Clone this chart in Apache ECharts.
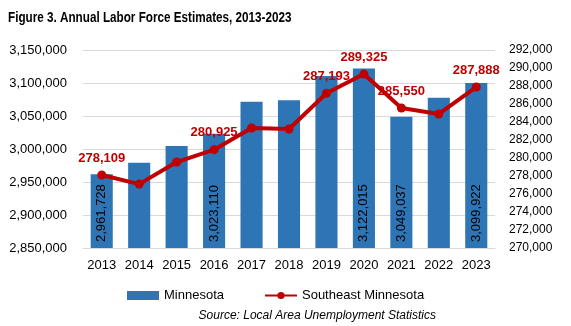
<!DOCTYPE html>
<html><head><meta charset="utf-8">
<script src="https://cdn.jsdelivr.net/npm/echarts@6/dist/echarts.min.js"></script>
<style>html,body{margin:0;padding:0;background:#fff}#c{width:571px;height:326px}</style>
</head><body><div id="c"></div>
<script>
const years = ['2013','2014','2015','2016','2017','2018','2019','2020','2021','2022','2023'];
const minnesota = [2961728, 2979000, 3004500, 3023110, 3071700, 3074000, 3110600, 3122015, 3049037, 3077700, 3099922];
const southeast = [278109, 277100, 279550, 280925, 283330, 283220, 287193, 289325, 285550, 284890, 287888];
const mnLabelYears = ['2013','2016','2020','2021','2023'];
const seLabelYears = ['2013','2016','2019','2020','2021','2023'];
const fmt = v => v.toLocaleString('en-US');
const font = 'Liberation Sans, Arial, sans-serif';
const chart = echarts.init(document.getElementById('c'));
chart.setOption({
  animation: false,
  textStyle: {fontFamily: font},
  grid: {left: 83, right: 76, top: 50, bottom: 78},
  legend: {bottom: 19, left: 122, itemGap: 40, itemWidth: 32, itemHeight: 9,
    textStyle: {fontSize: 13, color: '#000', fontFamily: font},
    data: [{name: 'Minnesota', icon: 'rect'}, {name: 'Southeast Minnesota'}]},
  graphic: [
    {type: 'text', x: 8, y: 10, scaleX: 0.78,
      style: {text: 'Figure 3. Annual Labor Force Estimates, 2013-2023', fontSize: 15, fontWeight: 'bold', fill: '#000', fontFamily: font}},
    {type: 'text', right: 135, bottom: 4,
      style: {text: 'Source: Local Area Unemployment Statistics', fontSize: 12, fontStyle: 'italic', fill: '#000', fontFamily: font}}],
  xAxis: {type: 'category', data: years,
    axisLine: {lineStyle: {color: '#d9d9d9'}}, axisTick: {show: false},
    axisLabel: {fontSize: 13, color: '#000', margin: 11, interval: 0}},
  yAxis: [
    {type: 'value', min: 2850000, max: 3150000, interval: 50000,
      axisLabel: {fontSize: 13, color: '#000', formatter: fmt, margin: 16},
      splitLine: {lineStyle: {color: '#d9d9d9'}}},
    {type: 'value', min: 270000, max: 292000, interval: 2000,
      axisLabel: {fontSize: 12, color: '#000', formatter: fmt, margin: 14},
      splitLine: {show: false}}
  ],
  series: [
    {name: 'Minnesota', type: 'bar', barWidth: '59%', itemStyle: {color: '#2E75B6'},
      data: minnesota.map((v, i) => ({value: v, label: {show: mnLabelYears.includes(years[i])}})),
      label: {position: 'insideBottom', rotate: 90, align: 'left', verticalAlign: 'middle', distance: 6,
        fontSize: 13, color: '#000', formatter: p => fmt(p.value)}},
    {name: 'Southeast Minnesota', type: 'line', yAxisIndex: 1, symbol: 'circle', symbolSize: 9,
      lineStyle: {color: '#C00000', width: 4}, itemStyle: {color: '#C00000'},
      data: southeast.map((v, i) => ({value: v, label: {show: seLabelYears.includes(years[i])}})),
      label: {position: 'top', distance: 6, fontSize: 13, fontWeight: 'bold', color: '#C00000', formatter: p => fmt(p.value)}}
  ]
});
</script></body></html>
